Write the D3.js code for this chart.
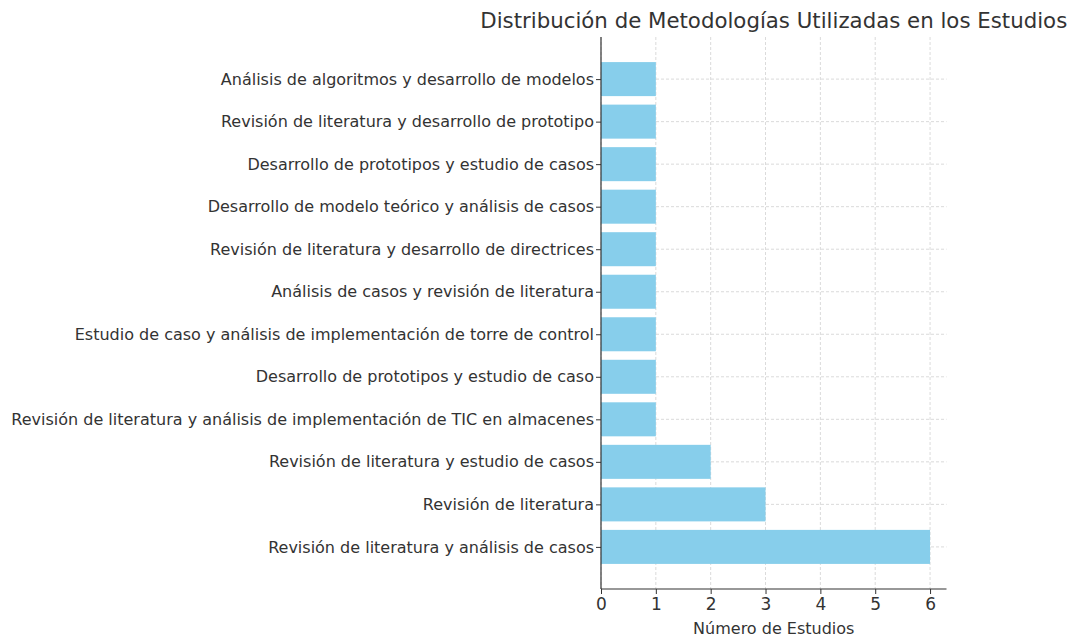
<!DOCTYPE html>
<html>
<head>
<meta charset="utf-8">
<script src="https://cdn.jsdelivr.net/npm/d3@7"></script>
<style>
  body { margin: 0; background: #fff; }
  svg, svg text { font-family: "DejaVu Sans", sans-serif; }
</style>
</head>
<body>
<svg id="chart"></svg>
<script>
// Data (bottom to top as drawn)
let methods = [
    'Revisión de literatura y análisis de casos',
    'Revisión de literatura',
    'Revisión de literatura y estudio de casos',
    'Revisión de literatura y análisis de implementación de TIC en almacenes',
    'Desarrollo de prototipos y estudio de caso',
    'Estudio de caso y análisis de implementación de torre de control',
    'Análisis de casos y revisión de literatura',
    'Revisión de literatura y desarrollo de directrices',
    'Desarrollo de modelo teórico y análisis de casos',
    'Desarrollo de prototipos y estudio de casos',
    'Revisión de literatura y desarrollo de prototipo',
    'Análisis de algoritmos y desarrollo de modelos'
];
let counts = [6, 3, 2, 1, 1, 1, 1, 1, 1, 1, 1, 1];
let xTicks = [0, 1, 2, 3, 4, 5, 6];

let width = 1075, height = 639;
let plotLeft = 601, plotRight = 946.5, plotTop = 37, plotBottom = 589;

let svg = d3.select('#chart').attr('width', width).attr('height', height);

// x scale with matplotlib-like margin
let x = d3.scaleLinear().domain([0, 6.3]).range([plotLeft, plotRight]);

// y: categories as numbers 0..11 from bottom, with margins
let n = methods.length;
let y = d3.scaleLinear().domain([-0.99, n - 1 + 0.99]).range([plotBottom, plotTop]);
let barH = Math.abs(y(0.4) - y(-0.4));

// grid
let grid = svg.append('g');
grid.selectAll('line.vx')
    .data(xTicks)
    .enter()
    .append('line')
    .attr('x1', d => x(d)).attr('x2', d => x(d))
    .attr('y1', plotTop).attr('y2', plotBottom)
    .attr('stroke', '#d0d0d0').attr('stroke-width', 0.8)
    .attr('stroke-dasharray', '3,2');
grid.selectAll('line.hy')
    .data(methods)
    .enter()
    .append('line')
    .attr('x1', plotLeft).attr('x2', plotRight)
    .attr('y1', (d, i) => y(i)).attr('y2', (d, i) => y(i))
    .attr('stroke', '#d0d0d0').attr('stroke-width', 0.8)
    .attr('stroke-dasharray', '3,2');

// bars
svg.selectAll('rect.bar')
    .data(counts)
    .enter()
    .append('rect')
    .attr('class', 'bar')
    .attr('x', x(0))
    .attr('y', (d, i) => y(i) - barH / 2)
    .attr('width', d => x(d) - x(0))
    .attr('height', barH)
    .attr('fill', '#87CEEB');

// x axis
let xAxis = svg.append('g')
    .attr('transform', `translate(0,${plotBottom})`)
    .call(d3.axisBottom(x).tickValues(xTicks).tickSize(5).tickPadding(4).tickFormat(d3.format('d')));
xAxis.attr('font-family', null);
xAxis.select('.domain').attr('d', `M${plotLeft},0H${plotRight}`).attr('stroke', '#333').attr('stroke-width', 1.2);
xAxis.selectAll('.tick line').attr('stroke', '#333');
xAxis.selectAll('.tick text').attr('fill', '#333').style('font-size', '17px');

// y axis
let yAxis = svg.append('g')
    .attr('transform', `translate(${plotLeft},0)`)
    .call(d3.axisLeft(y).tickValues(d3.range(n)).tickSize(5).tickPadding(2).tickFormat(i => methods[i]));
yAxis.attr('font-family', null);
yAxis.select('.domain').attr('d', `M0,${plotTop}V${plotBottom}`).attr('stroke', '#333').attr('stroke-width', 1.2);
yAxis.selectAll('.tick line').attr('stroke', '#333');
yAxis.selectAll('.tick text').attr('fill', '#333').style('font-size', '16px');

// x label
svg.append('text')
    .attr('x', (plotLeft + plotRight) / 2)
    .attr('y', 634)
    .attr('text-anchor', 'middle')
    .attr('fill', '#333')
    .style('font-size', '16px')
    .text('Número de Estudios');

// title
svg.append('text')
    .attr('x', (plotLeft + plotRight) / 2)
    .attr('y', 28)
    .attr('text-anchor', 'middle')
    .attr('fill', '#333')
    .style('font-size', '21.3px')
    .text('Distribución de Metodologías Utilizadas en los Estudios');
</script>
</body>
</html>
